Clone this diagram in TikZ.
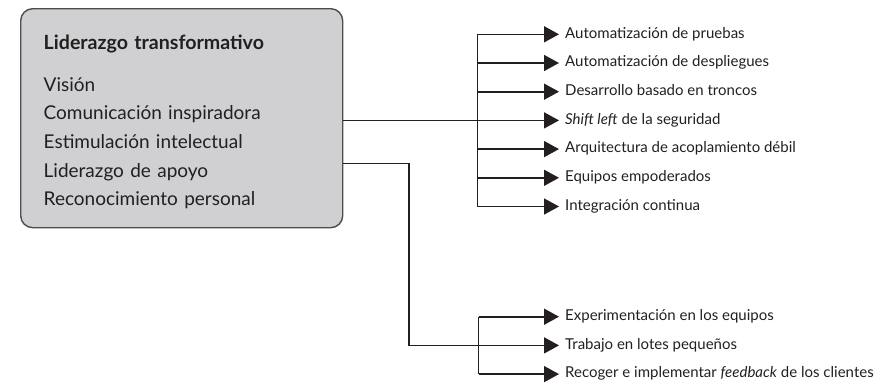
\documentclass[tikz,border=0pt]{standalone}
\usepackage{fontspec}
\setmainfont{Lato}
\usepackage{tikz}
\usetikzlibrary{arrows.meta,calc}

\definecolor{boxgray}{HTML}{D0D0D2}
\definecolor{edgegray}{HTML}{4D4D4F}
\definecolor{ink}{HTML}{231F20}

\tikzset{
  linea/.style={draw=ink, line width=1.6pt},
  flecha/.style={linea, -{Triangle[length=15pt,width=16pt]}},
  item/.style={anchor=west, inner xsep=6pt, inner ysep=0pt, text=ink,
    font=\fontsize{15pt}{18pt}\selectfont, text height=10.5pt, text depth=3pt}
}

\begin{document}
\begin{tikzpicture}[x=1pt,y=-1pt]
\useasboundingbox (0,0) rectangle (896,388);

% caja principal
\node[draw=edgegray, line width=1.4pt, fill=boxgray, rounded corners=12pt,
  anchor=north west, minimum width=322pt, minimum height=219pt,
  inner xsep=23pt, text width=276pt, align=left, text=ink,
  font=\fontsize{19pt}{28.7pt}\selectfont] (lider) at (20,8)
  {\rule{0pt}{22pt}{\fontsize{19.6pt}{26pt}\selectfont\bfseries Liderazgo transformativo}\\[13pt]
   Visión\\
   Comunicación inspiradora\\
   Estimulación intelectual\\
   Liderazgo de apoyo\\
   Reconocimiento personal};

% practicas (arriba)
\node[item] (t1) at (559,34.3) {Automatización de pruebas};
\node[item] (t2) at (559,63) {Automatización de despliegues};
\node[item] (t3) at (559,91.7) {Desarrollo basado en troncos};
\node[item] (t4) at (559,120.4) {\textit{Shift left} de la seguridad};
\node[item] (t5) at (559,149.1) {Arquitectura de acoplamiento débil};
\node[item] (t6) at (559,177.8) {Equipos empoderados};
\node[item] (t7) at (559,206.5) {Integración continua};

% practicas (abajo)
\node[item] (s1) at (559,316.7) {Experimentación en los equipos};
\node[item] (s2) at (559,345.4) {Trabajo en lotes pequeños};
\node[item] (s3) at (559,374.1) {Recoger e implementar \textit{feedback} de los clientes};

\coordinate (ba) at (477.5,0);
\coordinate (bb) at (478.5,0);
\coordinate (baja) at (409,163.3);

% conectores de arriba
\draw[linea] (lider.east |- t4.west) -- (t4.west -| ba);
\draw[linea] (t1.west -| ba) -- (t7.west -| ba);
\foreach \n in {t1,t2,t3,t4,t5,t6,t7}
  \draw[flecha] (\n.west -| ba) -- (\n.west);

% conectores de abajo
\draw[flecha] (lider.east |- baja) -- (baja) |- (s2.west);
\draw[linea] (s1.west -| bb) -- (s3.west -| bb);
\foreach \n in {s1,s3}
  \draw[flecha] (\n.west -| bb) -- (\n.west);

\end{tikzpicture}
\end{document}
